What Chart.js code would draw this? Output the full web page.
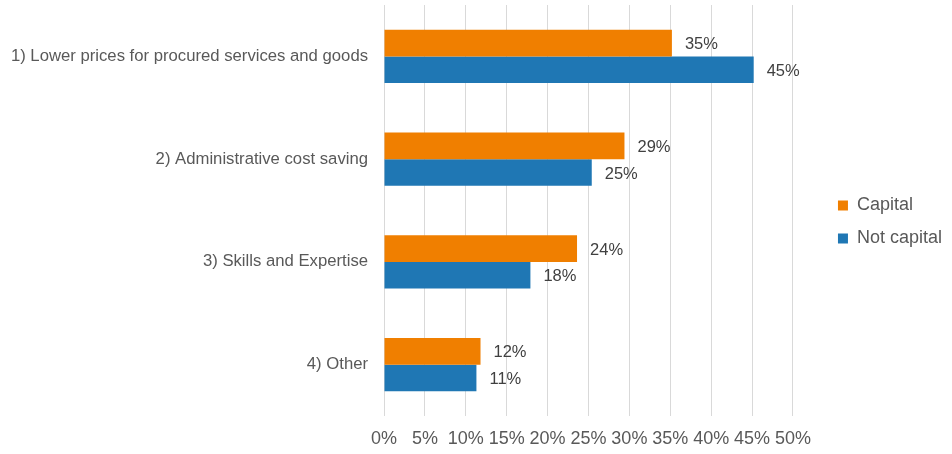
<!DOCTYPE html>
<html>
<head>
<meta charset="utf-8">
<script src="https://cdn.jsdelivr.net/npm/chart.js@4.4.1/dist/chart.umd.min.js"></script>
<style>
html,body{margin:0;padding:0;background:#ffffff;}
#wrap{width:952px;height:454px;position:relative;}
</style>
</head>
<body>
<div id="wrap"><canvas id="c"></canvas></div>
<script>
const categories = [
  "1) Lower prices for procured services and goods",
  "2) Administrative cost saving",
  "3) Skills and Expertise",
  "4) Other"
];
const capital = [35.2, 29.4, 23.6, 11.8];
const notCapital = [45.2, 25.4, 17.9, 11.3];
const seriesNames = ["Capital", "Not capital"];
const xTickValues = [0, 5, 10, 15, 20, 25, 30, 35, 40, 45, 50];

const FONT = '"Liberation Sans", Arial, Helvetica, sans-serif';
Chart.defaults.font.family = FONT;

const barLabels = {
  id: 'barLabels',
  afterDatasetsDraw(chart) {
    const ctx = chart.ctx;
    ctx.save();
    ctx.font = '16.5px ' + FONT;
    ctx.fillStyle = '#404040';
    ctx.textAlign = 'left';
    ctx.textBaseline = 'middle';
    chart.data.datasets.forEach((ds, i) => {
      const meta = chart.getDatasetMeta(i);
      meta.data.forEach((bar, j) => {
        ctx.fillText(Math.round(ds.data[j]) + '%', bar.x + 13, bar.y + 1.5);
      });
    });
    ctx.restore();
  }
};

const legendBand = {
  id: 'legendBand',
  afterLayout(chart) {
    if (chart.legend) { chart.legend.bottom = 439; }
  }
};

new Chart(document.getElementById('c'), {
  type: 'bar',
  data: {
    labels: categories,
    datasets: [
      { label: seriesNames[0], data: capital, backgroundColor: '#F07F00', borderWidth: 0 },
      { label: seriesNames[1], data: notCapital, backgroundColor: '#1F77B4', borderWidth: 0 }
    ]
  },
  options: {
    indexAxis: 'y',
    responsive: true,
    maintainAspectRatio: false,
    animation: false,
    categoryPercentage: 0.52,
    barPercentage: 1.0,
    layout: { padding: { top: 5, bottom: 0, left: 0, right: 0 } },
    scales: {
      x: {
        min: 0,
        max: 50,
        afterBuildTicks(scale) { scale.ticks = xTickValues.map(v => ({ value: v })); },
        afterFit(scale) { scale.height = 38; },
        grid: { color: '#d9d9d9', lineWidth: 1, drawTicks: false },
        border: { display: false },
        ticks: {
          autoSkip: false,
          maxRotation: 0,
          padding: 12,
          color: '#595959',
          font: { size: 18 },
          callback: (v) => v + '%'
        }
      },
      y: {
        afterFit(scale) { scale.width = 384; scale.paddingTop = 0; scale.paddingBottom = 0; },
        grid: { display: false, drawTicks: false },
        border: { display: false },
        ticks: { padding: 16, color: '#595959', font: { size: 16.7 } }
      },
      gap: {
        type: 'linear',
        axis: 'y',
        position: 'right',
        display: true,
        grid: { display: false, drawTicks: false },
        border: { display: false },
        ticks: { display: false },
        afterFit(scale) { scale.width = 30; scale.paddingTop = 0; scale.paddingBottom = 0; }
      }
    },
    plugins: {
      legend: {
        position: 'right',
        align: 'center',
        labels: {
          boxWidth: 10,
          boxHeight: 10,
          padding: 15,
          color: '#595959',
          font: { size: 18 }
        }
      },
      tooltip: { enabled: false }
    }
  },
  plugins: [barLabels, legendBand]
});
</script>
</body>
</html>
